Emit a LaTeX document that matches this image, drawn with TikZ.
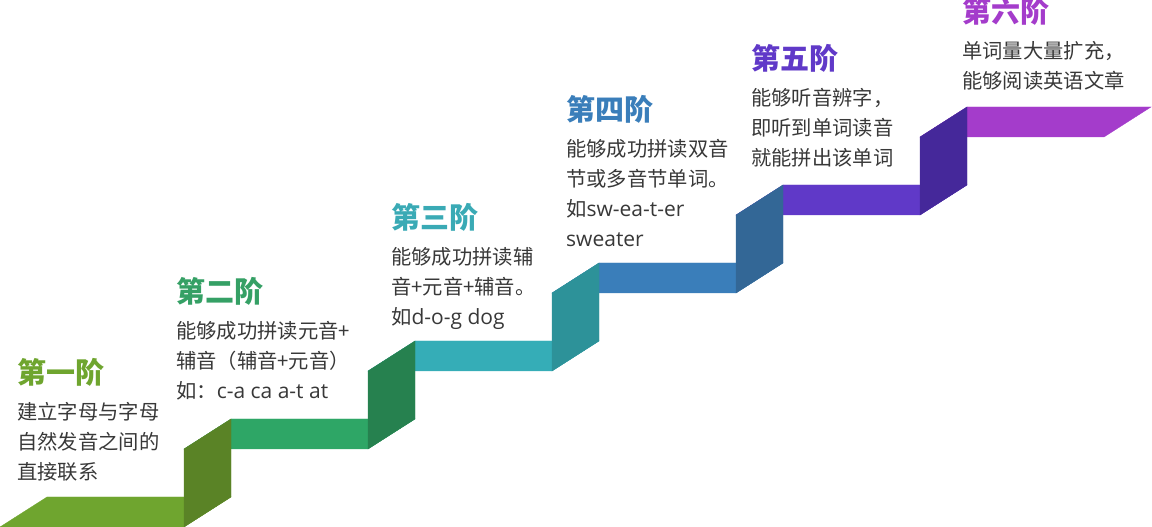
\documentclass[tikz,border=0pt]{standalone}
\usepackage{fontspec}
\setmainfont{Noto Sans CJK SC}
\newfontfamily\latfont{Open Sans}
\newcommand{\eng}[1]{{\latfont\fontsize{21}{30}\selectfont #1}}
\usetikzlibrary{positioning}
\definecolor{tA}{HTML}{6FA52F}
\definecolor{rA}{HTML}{5A8326}
\definecolor{tB}{HTML}{2EA666}
\definecolor{rB}{HTML}{26814F}
\definecolor{tC}{HTML}{35ADB7}
\definecolor{rC}{HTML}{2D9299}
\definecolor{tD}{HTML}{3A7EBA}
\definecolor{rD}{HTML}{336796}
\definecolor{tE}{HTML}{6039C8}
\definecolor{rE}{HTML}{45289A}
\definecolor{tF}{HTML}{A43CCB}
\definecolor{hB}{HTML}{35A065}
\definecolor{hC}{HTML}{3AAAB5}
\definecolor{txt}{HTML}{383838}

\begin{document}
\begin{tikzpicture}[x=1pt, y=1pt,
		head/.style={anchor=base west, inner sep=0pt, font=\fontsize{29}{30}\selectfont\bfseries},
		body/.style={anchor=north west, inner sep=0pt, align=left, text=txt, font=\fontsize{20.3}{30}\selectfont}]
				\useasboundingbox (0,0) rectangle (1152,527);
				% treads
				\filldraw[tA, line width=0.3pt] (0,0) -- (184,0) -- (231,30) -- (47,30) -- cycle;
				\filldraw[tB, line width=0.3pt] (184,78) -- (368,78) -- (415,108) -- (231,108) -- cycle;
				\filldraw[tC, line width=0.3pt] (368,156) -- (552,156) -- (599,186) -- (415,186) -- cycle;
				\filldraw[tD, line width=0.3pt] (552,234) -- (736,234) -- (783,264) -- (599,264) -- cycle;
				\filldraw[tE, line width=0.3pt] (736,312) -- (920,312) -- (967,342) -- (783,342) -- cycle;
				\filldraw[tF, line width=0.3pt] (920,390) -- (1104,390) -- (1151,420) -- (967,420) -- cycle;
				% risers
				\filldraw[rA, line width=0.3pt] (184,0) -- (231,30) -- (231,108) -- (184,78) -- cycle;
				\filldraw[rB, line width=0.3pt] (368,78) -- (415,108) -- (415,186) -- (368,156) -- cycle;
				\filldraw[rC, line width=0.3pt] (552,156) -- (599,186) -- (599,264) -- (552,234) -- cycle;
				\filldraw[rD, line width=0.3pt] (736,234) -- (783,264) -- (783,342) -- (736,312) -- cycle;
				\filldraw[rE, line width=0.3pt] (920,312) -- (967,342) -- (967,420) -- (920,390) -- cycle;
				% labels
				\node[head, text=tA] (S1) at (17,143) {第一阶};
				\node[body, below=18pt of S1.base west, anchor=north west] (T1) {建立字母与字母\\自然发音之间的\\直接联系};
				\node[head, text=hB] (S2) at (176,224) {第二阶};
				\node[body, below=18pt of S2.base west, anchor=north west] (T2) {能够成功拼读元音+\\辅音（辅音+元音）\\如：\eng{c-a ca a-t at}};
				\node[head, text=hC] (S3) at (391,298) {第三阶};
				\node[body, below=18pt of S3.base west, anchor=north west] (T3) {能够成功拼读辅\\音+元音+辅音。\\如\eng{d-o-g dog}};
				\node[head, text=tD] (S4) at (566,406) {第四阶};
				\node[body, below=18pt of S4.base west, anchor=north west] (T4) {能够成功拼读双音\\节或多音节单词。\\如\eng{sw-ea-t-er}\\\eng{sweater}};
				\node[head, text=tE] (S5) at (751,457) {第五阶};
				\node[body, below=18pt of S5.base west, anchor=north west] (T5) {能够听音辨字，\\即听到单词读音\\就能拼出该单词};
				\node[head, text=tF] (S6) at (962,504) {第六阶};
				\node[body, below=18pt of S6.base west, anchor=north west] (T6) {单词量大量扩充，\\能够阅读英语文章};
			\end{tikzpicture}
\end{document}
